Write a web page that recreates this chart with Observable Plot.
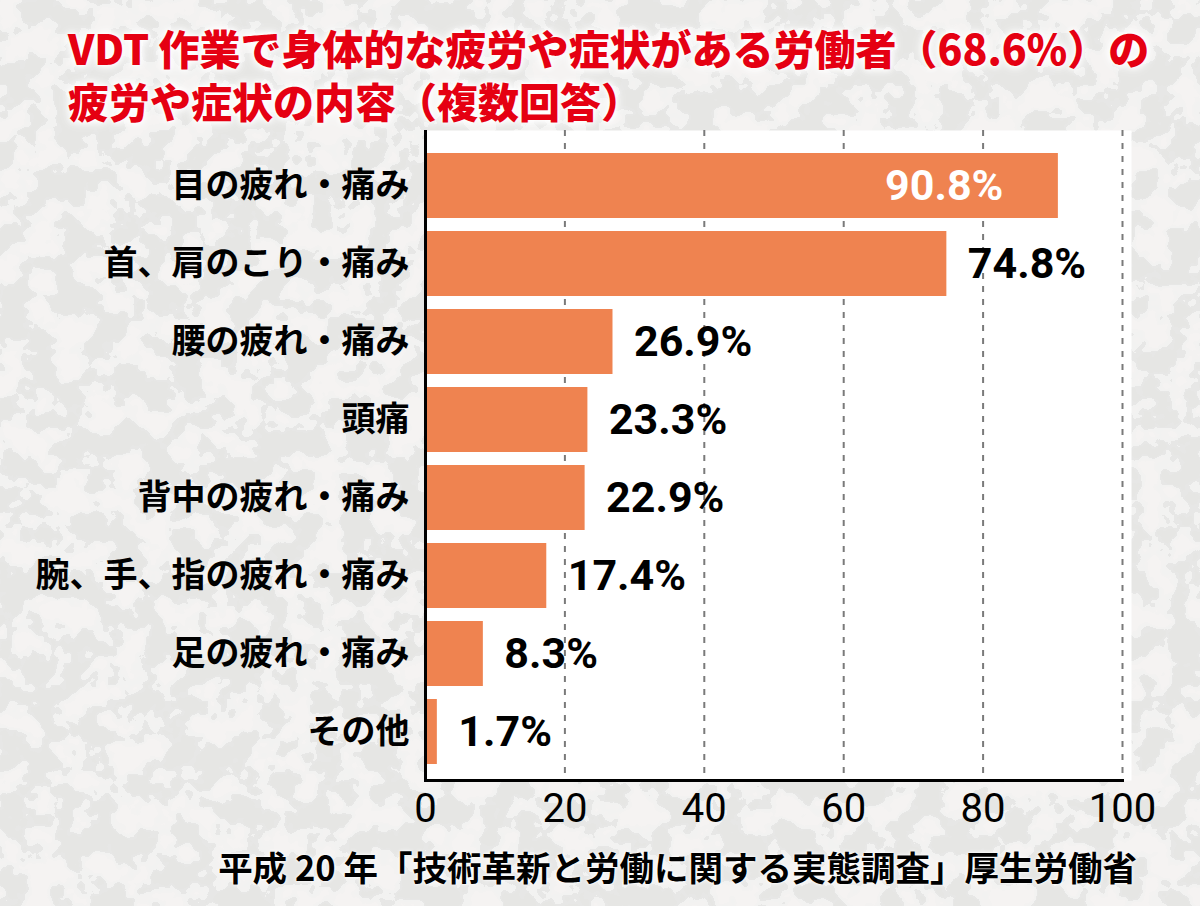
<!DOCTYPE html>
<html>
<head>
<meta charset="utf-8">
<script src="https://cdn.jsdelivr.net/npm/d3@7"></script>
<script src="https://cdn.jsdelivr.net/npm/@observablehq/plot@0.6"></script>
<style>
  html, body { margin: 0; padding: 0; }
  body { width: 1200px; height: 906px; overflow: hidden; background-color: #d6d5d3; }
  #title {
    height: 130px; box-sizing: border-box; padding: 21px 0 0 68px;
  }
  #title div {
    width: 1090px; line-height: 53px;
    font-family: "Noto Sans CJK JP", sans-serif; font-weight: 900; font-size: 41px;
    color: #e50012;
    text-shadow: 0 0 3px #fff, 0 0 6px #fff, 0 0 10px #fff, 0 0 14px #fff;
  }
  #chart { height: 700px; }
  #caption {
    height: 76px; box-sizing: border-box; padding: 16px 63px 0 0; text-align: right;
    font-family: "Noto Sans CJK JP", sans-serif; font-weight: bold; font-size: 34.5px; line-height: 40px;
    color: #000; text-shadow: 0 0 2px #fff, 0 0 4px #fff; white-space: nowrap;
  }
</style>
</head>
<body>
<div id="title"><div>VDT 作業で身体的な疲労や症状がある労働者（68.6%）の疲労や症状の内容（複数回答）</div></div>
<div id="chart"></div>
<div id="caption">平成 20 年「技術革新と労働に関する実態調査」厚生労働省</div>
<script>
const categories = ["目の疲れ・痛み", "首、肩のこり・痛み", "腰の疲れ・痛み", "頭痛", "背中の疲れ・痛み", "腕、手、指の疲れ・痛み", "足の疲れ・痛み", "その他"];
const values = [90.8, 74.8, 26.9, 23.3, 22.9, 17.4, 8.3, 1.7];
const xTicks = [0, 20, 40, 60, 80, 100];

const data = categories.map((c, i) => ({category: c, value: values[i]}));

// camouflage-like background texture (decoration only)
const bg = `<svg xmlns='http://www.w3.org/2000/svg' width='1200' height='906'>
<filter id='f' x='0' y='0' width='100%' height='100%'>
<feTurbulence type='fractalNoise' baseFrequency='0.035' numOctaves='3' seed='11'/>
<feColorMatrix type='matrix' values='1 0 0 0 0  1 0 0 0 0  1 0 0 0 0  0 0 0 0 1'/>
<feComponentTransfer>
<feFuncR type='linear' slope='3' intercept='-1'/>
<feFuncG type='linear' slope='3' intercept='-1'/>
<feFuncB type='linear' slope='3' intercept='-1'/>
</feComponentTransfer>
<feComponentTransfer>
<feFuncR type='discrete' tableValues='0.79 0.79 0.80 0.89 0.90 0.91'/>
<feFuncG type='discrete' tableValues='0.79 0.79 0.80 0.89 0.89 0.90'/>
<feFuncB type='discrete' tableValues='0.78 0.78 0.79 0.88 0.88 0.89'/>
</feComponentTransfer>
</filter>
<rect width='1200' height='906' filter='url(#f)'/>
</svg>`;
document.body.style.backgroundImage = `url("data:image/svg+xml,${encodeURIComponent(bg)}")`;

const chart = Plot.plot({
  width: 1200,
  height: 700,
  marginLeft: 425,
  marginRight: 69,
  marginTop: 0,
  marginBottom: 50,
  style: {background: "transparent", color: "#000", overflow: "visible"},
  x: {domain: [0, 100], insetRight: 9},
  y: {domain: categories, paddingInner: 0.17, paddingOuter: 0.085, insetTop: 15, insetBottom: 9},
  marks: [
    Plot.frame({fill: "white", stroke: null}),
    Plot.ruleX(xTicks.filter(d => d > 0), {stroke: "#7a7a7a", strokeWidth: 2, strokeDasharray: "6,7"}),
    Plot.barX(data, {x: "value", y: "category", fill: "#ef8350"}),
    Plot.text(data.filter(d => d.value > 85), {
      x: "value", y: "category", text: d => d.value.toFixed(1) + "%",
      textAnchor: "end", dx: -55, fill: "white",
      fontSize: 43, fontWeight: "bold", fontFamily: "Roboto"
    }),
    Plot.text(data.filter(d => d.value <= 85), {
      x: "value", y: "category", text: d => d.value.toFixed(1) + "%",
      textAnchor: "start", dx: 21, fill: "black",
      fontSize: 43, fontWeight: "bold", fontFamily: "Roboto"
    }),
    Plot.ruleX([0], {stroke: "black", strokeWidth: 3}),
    Plot.frame({anchor: "bottom", stroke: "black", strokeWidth: 3, insetRight: 9}),
    Plot.axisY({tickSize: 0, tickPadding: 16, fontSize: 34, fontWeight: "bold", fontFamily: "Noto Sans CJK JP", label: null}),
    Plot.axisX({ticks: xTicks, tickSize: 0, tickPadding: 13, fontSize: 40, fontFamily: "Roboto", label: null})
  ]
});
document.getElementById("chart").appendChild(chart);
</script>
</body>
</html>
